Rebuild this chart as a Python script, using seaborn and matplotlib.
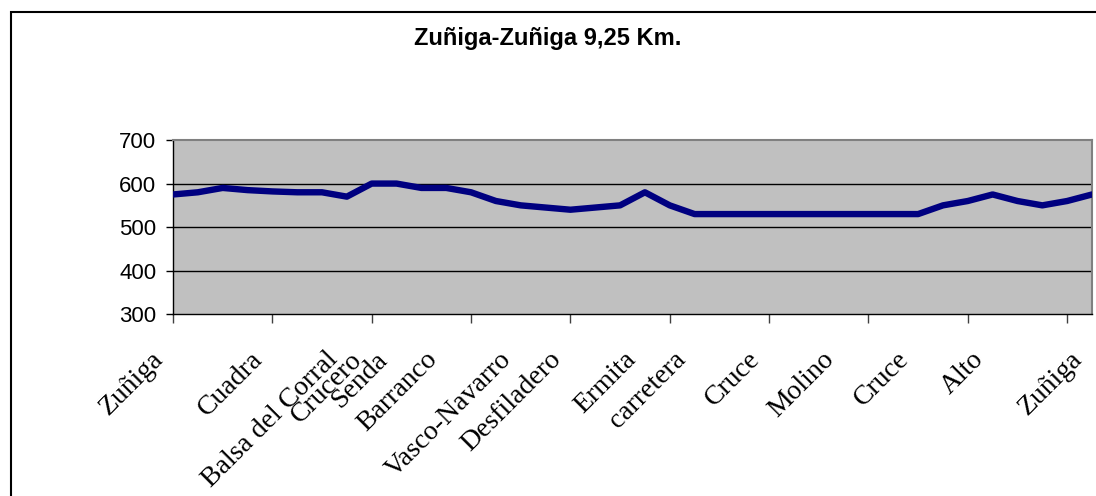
import numpy as np
import pandas as pd
import matplotlib
matplotlib.use("Agg")
import matplotlib.pyplot as plt
import matplotlib.transforms as mtrans
import seaborn as sns
from matplotlib.patches import Rectangle

# ---- data ----
altitude = [575, 580, 590, 585, 582, 580, 580, 570, 600, 600,
            590, 590, 580, 560, 550, 545, 540, 545, 550, 580,
            550, 530, 530, 530, 530, 530, 530, 530, 530, 530,
            530, 550, 560, 575, 560, 550, 560, 575]
label_pos = [0, 4, 7, 8, 9, 11, 14, 16, 19, 21, 24, 27, 30, 33, 37]
label_txt = ["Zuñiga", "Cuadra", "Balsa del Corral", "Crucero", "Senda",
             "Barranco", "Vasco-Navarro", "Desfiladero", "Ermita", "carretera",
             "Cruce", "Molino", "Cruce", "Alto", "Zuñiga"]
y_ticks = [300, 400, 500, 600, 700]
title = "Zuñiga-Zuñiga 9,25 Km."

df = pd.DataFrame({"idx": np.arange(len(altitude)), "alt": altitude})

sns.set_style("white")
plt.rcParams["text.color"] = "black"
plt.rcParams["xtick.color"] = "black"
plt.rcParams["ytick.color"] = "black"

W, H = 1096, 496
fig = plt.figure(figsize=(W / 100, H / 100), dpi=100)
fig.patch.set_facecolor("white")

left, right, top, bottom = 173, 1092, 140, 314.3
ax = fig.add_axes([left / W, 1 - bottom / H, (right - left) / W, (bottom - top) / H])
ax.set_facecolor("#C0C0C0")

for v in [400, 500, 600]:
    ax.axhline(v, color="black", lw=1.0, zorder=1)

sns.lineplot(data=df, x="idx", y="alt", ax=ax, color="#000080", lw=4.6,
             zorder=3, legend=False)

ax.set_xlim(0, len(altitude) - 1)
ax.set_ylim(300, 700)
ax.set_xlabel("")
ax.set_ylabel("")

# y axis
ax.set_yticks(y_ticks)
ax.set_yticklabels([str(v) for v in y_ticks], fontsize=16, family="Liberation Sans",
                   color="black")
ax.tick_params(axis="y", direction="out", length=5, width=1, color="black", pad=7, left=True)

# x axis: ticks every 4 categories, labels at named categories
ax.xaxis.remove_overlapping_locs = False
ax.set_xticks(np.arange(0, len(altitude), 4))
ax.set_xticklabels([])
ax.tick_params(axis="x", which="major", direction="out", length=6.5, width=1,
               color="#404040", bottom=True)
ax.set_xticks(label_pos, minor=True)
ax.set_xticklabels(label_txt, minor=True, rotation=45, ha="right", va="center",
                   rotation_mode="anchor", fontsize=20, family="Liberation Serif",
                   color="black")
ax.tick_params(axis="x", which="minor", length=0, pad=30)

for s in ["left", "bottom"]:
    ax.spines[s].set_color("black")
    ax.spines[s].set_linewidth(1.0)
for s in ["top", "right"]:
    ax.spines[s].set_color("#808080")
    ax.spines[s].set_linewidth(1.5)

fig.text(0.5, 1 - 45 / H, title, ha="center", va="baseline", fontsize=17,
         fontweight="bold", family="Liberation Sans", color="black")

fig.patches.append(Rectangle((10.5 / W, -0.1), 1.2, 1.1 - 12 / H,
                             transform=fig.transFigure, fill=False,
                             edgecolor="black", lw=1.5))

shift = mtrans.ScaledTranslation(-13 / 100, 0, fig.dpi_scale_trans)
for lab in ax.get_xticklabels(minor=True):
    lab.set_transform(lab.get_transform() + shift)

fig.savefig("out.png", dpi=100)
